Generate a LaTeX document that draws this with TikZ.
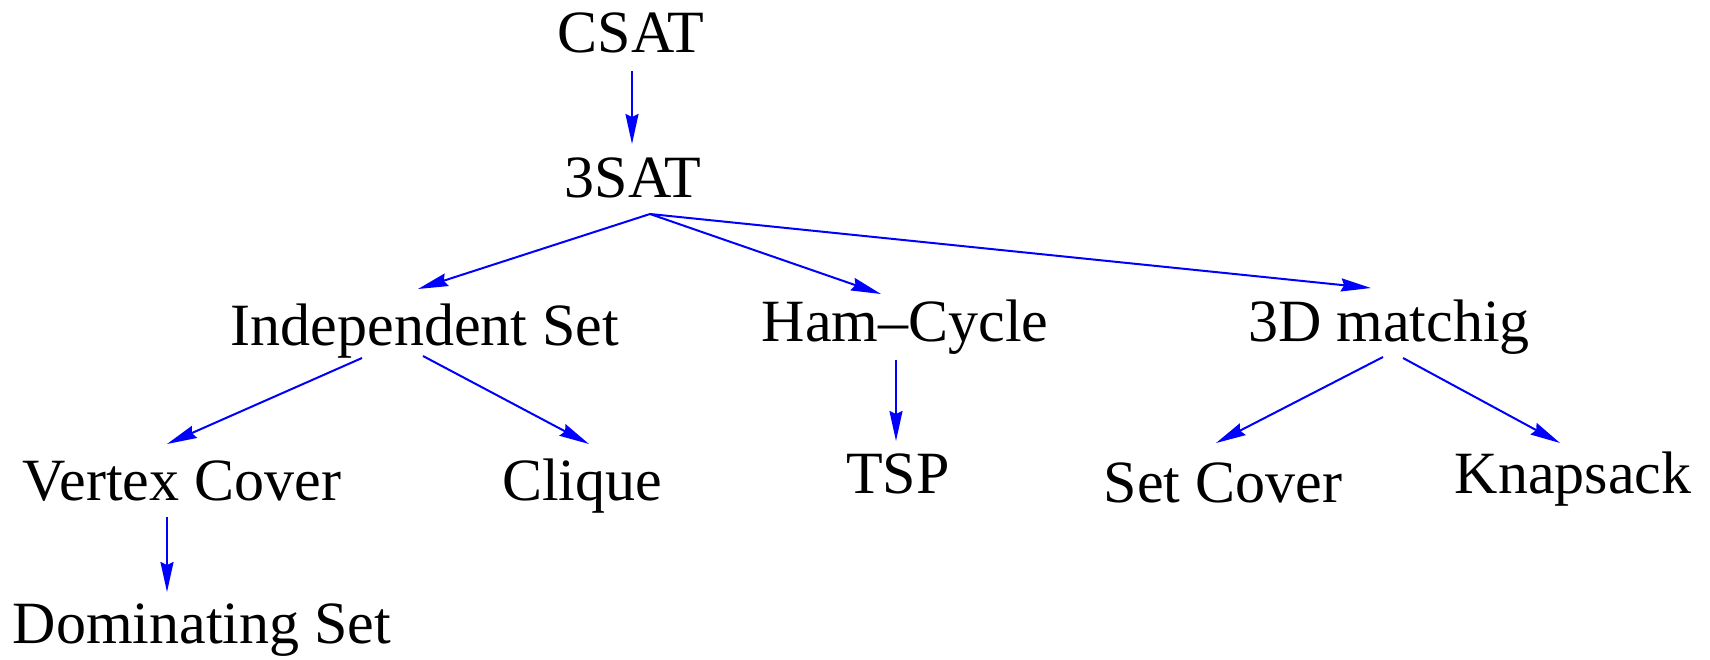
\documentclass[tikz,border=0pt]{standalone}
\usepackage{fontspec}
\setmainfont{Liberation Serif}
\usetikzlibrary{arrows.meta}
\definecolor{edgeblue}{RGB}{0,0,255}
\tikzset{
  lbl/.style={anchor=base, inner sep=0pt, font=\fontsize{60}{72}\selectfont},
  arr/.style={draw=edgeblue, line width=2pt,
    -{Stealth[length=30pt, width=13pt, inset=3pt]}}
}
\begin{document}
\begin{tikzpicture}[x=1pt, y=-1pt]
\useasboundingbox (0,0) rectangle (1710,659);

% problem labels, placed by their baselines
\node[lbl] (csat) at (631,52)  {CSAT};
\node[lbl] (sat3) at (633,197) {3SAT};
\node[lbl] (ind)  at (425,345) {Independent Set};
\node[lbl] (ham)  at (905,341) {Ham--Cycle};
\node[lbl] (tdm)  at (1389,341) {3D matchig};
\node[lbl] (vc)   at (182,500) {Vertex Cover};
\node[lbl] (clq)  at (582,500) {Clique};
\node[lbl] (tsp)  at (898,493) {TSP};
\node[lbl] (sc)   at (1223,502) {Set Cover};
\node[lbl] (knap) at (1573,493) {Knapsack};
\node[lbl] (dom)  at (202,643) {Dominating Set};

% reductions
\draw[arr] ([shift={(1,19)}]csat.base) -- ([shift={(-1,-53)}]sat3.base);
\draw[arr] ([shift={(17,17)}]sat3.base) -- ([shift={(-7,-56)}]ind.base);
\draw[arr] ([shift={(17,17)}]sat3.base) -- ([shift={(-24,-47)}]ham.base);
\draw[arr] ([shift={(17,17)}]sat3.base) -- ([shift={(-18,-53)}]tdm.base);
\draw[arr] ([shift={(-63,13)}]ind.base) -- ([shift={(-15,-56)}]vc.base);
\draw[arr] ([shift={(-2,11)}]ind.base) -- ([shift={(7,-56)}]clq.base);
\draw[arr] ([shift={(-9,19)}]ham.base) -- ([shift={(-2,-52)}]tsp.base);
\draw[arr] ([shift={(-6,16)}]tdm.base) -- ([shift={(-7,-59)}]sc.base);
\draw[arr] ([shift={(14,17)}]tdm.base) -- ([shift={(-13,-50)}]knap.base);
\draw[arr] ([shift={(-15,17)}]vc.base) -- ([shift={(-35,-51)}]dom.base);
\end{tikzpicture}
\end{document}
